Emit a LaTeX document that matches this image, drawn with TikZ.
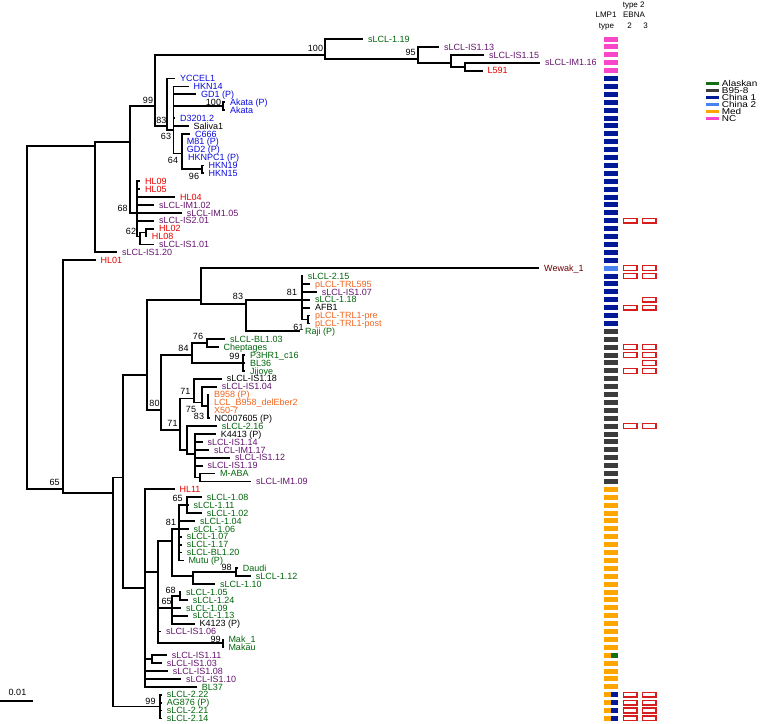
\documentclass[tikz,border=0pt]{standalone}
\usepackage{fontspec}
\setmainfont{Liberation Sans}
\newfontfamily\lgfont{Liberation Sans}[FakeStretch=1.17]
\definecolor{tg}{RGB}{0,100,10}
\definecolor{tp}{RGB}{100,20,110}
\definecolor{tr}{RGB}{230,0,0}
\definecolor{tb}{RGB}{10,10,220}
\definecolor{to}{RGB}{240,100,30}
\definecolor{tm}{RGB}{110,0,0}
\definecolor{ncc}{RGB}{250,70,200}
\definecolor{chinaone}{RGB}{0,25,150}
\definecolor{chinatwo}{RGB}{70,130,240}
\definecolor{bgray}{RGB}{60,60,60}
\definecolor{med}{RGB}{255,165,0}
\definecolor{alaskan}{RGB}{20,110,20}
\definecolor{boxred}{RGB}{215,30,30}
\newcommand\lmpbox[2]{\fill[#2] (604,{39+(#1-1)*7.9-2.5}) rectangle (617.5,{39+(#1-1)*7.9+2.5});}
\newcommand\lmpsplit[2]{\fill[med] (604,{39+(#1-1)*7.9-2.5}) rectangle (611,{39+(#1-1)*7.9+2.5});\fill[#2] (611,{39+(#1-1)*7.9-2.5}) rectangle (617.5,{39+(#1-1)*7.9+2.5});}
\newcommand\ebnabox[2]{\draw[redbox] (#2,{39+(#1-1)*7.9-2.4}) rectangle ({#2+13.7},{39+(#1-1)*7.9+2.4});}
\begin{document}
\begin{tikzpicture}[x=1pt,y=-1pt,
  br/.style={line width=1.8pt, line join=miter},
  lf/.style={anchor=west, inner xsep=4.7pt, inner ysep=0pt, xshift=-4.7pt, text height=6.4pt, text depth=0pt, font=\fontsize{9}{10}\selectfont},
  bs/.style={inner sep=0pt, text height=6.4pt, text depth=0pt, font=\fontsize{9}{10}\selectfont},
  hd/.style={inner sep=0pt, text height=5.7pt, text depth=0pt, font=\fontsize{8}{9}\selectfont},
  lg/.style={anchor=west, inner sep=0pt, text height=6pt, text depth=0pt, font=\lgfont\fontsize{8.5}{9}\selectfont},
  redbox/.style={draw=boxred, line width=1.3pt, fill=white}]
\useasboundingbox (0,0) rectangle (760,723);

% internal nodes
\coordinate (root) at (27,300);
\coordinate (n95) at (95,145.65);
\coordinate (n130) at (130,141.7);
\coordinate (n155) at (155,106.15);
\coordinate (n325) at (325,54.8);
\coordinate (n418) at (418,58.75);
\coordinate (n451) at (451,62.7);
\coordinate (n465) at (465,66.65);
\coordinate (nchina) at (167,125.9);
\coordinate (n173) at (173.5,129.85);
\coordinate (nakata) at (223.3,106.15);
\coordinate (n181) at (181.7,153.55);
\coordinate (n202) at (202.3,169.35);
\coordinate (n137) at (137.3,212.8);
\coordinate (n62) at (140,236.5);
\coordinate (nhl) at (146,232.55);
\coordinate (n65) at (63,489.3);
\coordinate (na) at (113,493.25);
\coordinate (nb) at (122.7,477.45);
\coordinate (nc) at (146.7,374.75);
\coordinate (nw) at (200.7,299.7);
\coordinate (nx) at (246,303.65);
\coordinate (ny) at (301.7,299.7);
\coordinate (ntrl) at (308.3,319.45);
\coordinate (ne) at (160.7,410.3);
\coordinate (nf) at (191.7,355);
\coordinate (nf76) at (206.7,343.15);
\coordinate (np3) at (243.3,362.9);
\coordinate (ng) at (180,430.05);
\coordinate (nh) at (194.3,398.45);
\coordinate (nj) at (201.7,402.4);
\coordinate (nk) at (208.3,406.35);
\coordinate (ni) at (186.7,449.75);
\coordinate (nl) at (195,453.7);
\coordinate (nm) at (200,477.45);
\coordinate (nd) at (145,588.05);
\coordinate (nn) at (158.3,572.25);
\coordinate (np) at (171.7,540.65);
\coordinate (n81) at (179.3,528.8);
\coordinate (n65b) at (186.7,505.1);
\coordinate (ndd) at (193.3,576.2);
\coordinate (ndaudi) at (235.7,572.25);
\coordinate (n65c) at (171.7,607.8);
\coordinate (n68) at (180,595.95);
\coordinate (nmak) at (223,643.35);
\coordinate (no) at (151.7,659.15);
\coordinate (nag) at (160,706.55);

% leaves
\node[lf,text=tg] (l1) at (368,39) {sLCL-1.19};
\node[lf,text=tp] (l2) at (444,46.9) {sLCL-IS1.13};
\node[lf,text=tp] (l3) at (489,54.8) {sLCL-IS1.15};
\node[lf,text=tp] (l4) at (545,62.7) {sLCL-IM1.16};
\node[lf,text=tr] (l5) at (487.5,70.6) {L591};
\node[lf,text=tb] (l6) at (180,78.5) {YCCEL1};
\node[lf,text=tb] (l7) at (193.3,86.4) {HKN14};
\node[lf,text=tb] (l8) at (201,94.3) {GD1 (P)};
\node[lf,text=tb] (l9) at (230,102.2) {Akata (P)};
\node[lf,text=tb] (l10) at (230,110.1) {Akata};
\node[lf,text=tb] (l11) at (180,118) {D3201.2};
\node[lf] (l12) at (193.3,125.9) {Saliva1};
\node[lf,text=tb] (l13) at (195,133.8) {C666};
\node[lf,text=tb] (l14) at (186.7,141.7) {M81 (P)};
\node[lf,text=tb] (l15) at (186.7,149.6) {GD2 (P)};
\node[lf,text=tb] (l16) at (188,157.5) {HKNPC1 (P)};
\node[lf,text=tb] (l17) at (208.3,165.4) {HKN19};
\node[lf,text=tb] (l18) at (208.3,173.3) {HKN15};
\node[lf,text=tr] (l19) at (145,181.2) {HL09};
\node[lf,text=tr] (l20) at (145,189.1) {HL05};
\node[lf,text=tr] (l21) at (180,197) {HL04};
\node[lf,text=tp] (l22) at (159,204.9) {sLCL-IM1.02};
\node[lf,text=tp] (l23) at (186.7,212.8) {sLCL-IM1.05};
\node[lf,text=tp] (l24) at (159,220.7) {sLCL-IS2.01};
\node[lf,text=tr] (l25) at (159,228.6) {HL02};
\node[lf,text=tr] (l26) at (151.7,236.5) {HL08};
\node[lf,text=tp] (l27) at (159,244.4) {sLCL-IS1.01};
\node[lf,text=tp] (l28) at (122,252.3) {sLCL-IS1.20};
\node[lf,text=tr] (l29) at (100.5,260.2) {HL01};
\node[lf,text=tm] (l30) at (544,268.1) {Wewak\_1};
\node[lf,text=tg] (l31) at (307.7,276) {sLCL-2.15};
\node[lf,text=to] (l32) at (315,283.9) {pLCL-TRL595};
\node[lf,text=tp] (l33) at (321.7,291.8) {sLCL-IS1.07};
\node[lf,text=tg] (l34) at (315,299.7) {sLCL-1.18};
\node[lf] (l35) at (315,307.6) {AFB1};
\node[lf,text=to] (l36) at (315,315.5) {pLCL-TRL1-pre};
\node[lf,text=to] (l37) at (315,323.4) {pLCL-TRL1-post};
\node[lf,text=tg] (l38) at (305,331.3) {Raji (P)};
\node[lf,text=tg] (l39) at (230,339.2) {sLCL-BL1.03};
\node[lf,text=tg] (l40) at (223.3,347.1) {Cheptages};
\node[lf,text=tg] (l41) at (250,355) {P3HR1\_c16};
\node[lf,text=tg] (l42) at (250,362.9) {BL36};
\node[lf,text=tg] (l43) at (250,370.8) {Jijoye};
\node[lf] (l44) at (226.7,378.7) {sLCL-IS1.18};
\node[lf,text=tp] (l45) at (221.7,386.6) {sLCL-IS1.04};
\node[lf,text=to] (l46) at (214,394.5) {B958 (P)};
\node[lf,text=to] (l47) at (214,402.4) {LCL\_B958\_delEber2};
\node[lf,text=to] (l48) at (214,410.3) {X50-7};
\node[lf] (l49) at (214.3,418.2) {NC007605 (P)};
\node[lf,text=tg] (l50) at (221.7,426.1) {sLCL-2.16};
\node[lf] (l51) at (220.7,434) {K4413 (P)};
\node[lf,text=tp] (l52) at (207.3,441.9) {sLCL-IS1.14};
\node[lf,text=tp] (l53) at (214,449.8) {sLCL-IM1.17};
\node[lf,text=tp] (l54) at (235,457.7) {sLCL-IS1.12};
\node[lf,text=tp] (l55) at (207.3,465.6) {sLCL-IS1.19};
\node[lf,text=tg] (l56) at (220,473.5) {M-ABA};
\node[lf,text=tp] (l57) at (256,481.4) {sLCL-IM1.09};
\node[lf,text=tr] (l58) at (179.3,489.3) {HL11};
\node[lf,text=tg] (l59) at (206.7,497.2) {sLCL-1.08};
\node[lf,text=tg] (l60) at (193.3,505.1) {sLCL-1.11};
\node[lf,text=tg] (l61) at (206.7,513) {sLCL-1.02};
\node[lf,text=tg] (l62) at (200,520.9) {sLCL-1.04};
\node[lf,text=tg] (l63) at (193.3,528.8) {sLCL-1.06};
\node[lf,text=tg] (l64) at (186.7,536.7) {sLCL-1.07};
\node[lf,text=tg] (l65) at (186.7,544.6) {sLCL-1.17};
\node[lf,text=tg] (l66) at (186.7,552.5) {sLCL-BL1.20};
\node[lf,text=tg] (l67) at (188.3,560.4) {Mutu (P)};
\node[lf,text=tg] (l68) at (242.7,568.3) {Daudi};
\node[lf,text=tg] (l69) at (255.7,576.2) {sLCL-1.12};
\node[lf,text=tg] (l70) at (220,584.1) {sLCL-1.10};
\node[lf,text=tg] (l71) at (186,592) {sLCL-1.05};
\node[lf,text=tg] (l72) at (192.7,599.9) {sLCL-1.24};
\node[lf,text=tg] (l73) at (186,607.8) {sLCL-1.09};
\node[lf,text=tg] (l74) at (192.7,615.7) {sLCL-1.13};
\node[lf] (l75) at (199.3,623.6) {K4123 (P)};
\node[lf,text=tp] (l76) at (166,631.5) {sLCL-IS1.06};
\node[lf,text=tg] (l77) at (228.3,639.4) {Mak\_1};
\node[lf,text=tg] (l78) at (228.3,647.3) {Makau};
\node[lf,text=tp] (l79) at (171.7,655.2) {sLCL-IS1.11};
\node[lf,text=tp] (l80) at (166.7,663.1) {sLCL-IS1.03};
\node[lf,text=tp] (l81) at (172.7,671) {sLCL-IS1.08};
\node[lf,text=tp] (l82) at (186,678.9) {sLCL-IS1.10};
\node[lf,text=tg] (l83) at (201.7,686.8) {BL37};
\node[lf,text=tg] (l84) at (166.7,694.7) {sLCL-2.22};
\node[lf,text=tg] (l85) at (166.7,702.6) {AG876 (P)};
\node[lf,text=tg] (l86) at (166.7,710.5) {sLCL-2.21};
\node[lf,text=tg] (l87) at (166.7,718.4) {sLCL-2.14};

% branches to internal nodes
\foreach \p/\c in {root/n95,root/n65,n95/n130,n130/n155,n130/n137,n155/n325,n155/nchina,
  n325/n418,n418/n451,n451/n465,nchina/n173,n173/nakata,n173/n181,n181/n202,n137/n62,n62/nhl,
  n65/na,na/nb,na/nag,nb/nc,nb/nd,nc/nw,nc/ne,nw/nx,nx/ny,ny/ntrl,ne/nf,ne/ng,nf/nf76,nf/np3,
  ng/nh,ng/ni,nh/nj,nj/nk,ni/nl,nl/nm,nd/nn,nd/no,nn/np,nn/n65c,nn/nmak,np/n81,np/ndd,
  n81/n65b,ndd/ndaudi,n65c/n68}
  {\draw[br] (\p) |- (\c);}
% branches to leaves
\foreach \p/\c in {n325/l1,n418/l2,n451/l3,n465/l4,n465/l5,nchina/l6,n173/l7,n173/l8,nakata/l9,nakata/l10,
  n173/l11,n173/l12,n181/l13,n181/l14,n181/l15,n181/l16,n202/l17,n202/l18,
  n137/l19,n137/l20,n137/l21,n137/l22,n137/l23,n137/l24,nhl/l25,nhl/l26,n62/l27,n95/l28,n65/l29,
  nw/l30,ny/l31,ny/l32,ny/l33,ny/l34,ny/l35,ntrl/l36,ntrl/l37,nx/l38,nf76/l39,nf76/l40,
  np3/l41,np3/l42,np3/l43,nh/l44,nj/l45,nk/l46,nk/l47,nk/l48,nk/l49,ni/l50,
  nl/l51,nl/l52,nl/l53,nl/l54,nl/l55,nm/l56,nm/l57,nd/l58,n65b/l59,n65b/l60,n65b/l61,
  n81/l62,n81/l63,n81/l64,n81/l65,n81/l66,n81/l67,ndaudi/l68,ndaudi/l69,ndd/l70,
  n68/l71,n68/l72,n65c/l73,n65c/l74,n65c/l75,nn/l76,nmak/l77,nmak/l78,no/l79,no/l80,
  nd/l81,nd/l82,nd/l83,nag/l84,nag/l85,nag/l86,nag/l87}
  {\draw[br] (\p) |- (\c.west);}

% bootstrap values
\node[bs] (b1) at (315.5,48.3) {100};
\node[bs] (b2) at (410.5,52.3) {95};
\node[bs] (b3) at (148,100) {99};
\node[bs] (b4) at (213.5,102) {100};
\node[bs] (b5) at (161.3,120.7) {83};
\node[bs] (b6) at (166,136.7) {63};
\node[bs] (b7) at (173,160) {64};
\node[bs] (b8) at (194,176.7) {96};
\node[bs] (b9) at (122.7,208.7) {68};
\node[bs] (b10) at (131,231) {62};
\node[bs] (b11) at (238,296.7) {83};
\node[bs] (b12) at (292,292.3) {81};
\node[bs] (b13) at (298.5,327.3) {61};
\node[bs] (b14) at (198,336.7) {76};
\node[bs] (b15) at (183.5,348.7) {84};
\node[bs] (b16) at (234.5,356.7) {99};
\node[bs] (b17) at (185.3,391.7) {71};
\node[bs] (b18) at (154.5,403.3) {80};
\node[bs] (b19) at (191,409.3) {75};
\node[bs] (b20) at (199,416.7) {83};
\node[bs] (b21) at (172.5,423.3) {71};
\node[bs] (b22) at (54.7,482.7) {65};
\node[bs] (b23) at (177.7,498.3) {65};
\node[bs] (b24) at (171,522.7) {81};
\node[bs] (b25) at (226.7,567.3) {98};
\node[bs] (b26) at (170.7,590) {68};
\node[bs] (b27) at (166.7,601.7) {65};
\node[bs] (b28) at (215.7,639.3) {99};
\node[bs] (b29) at (150.5,701) {99};

% scale bar
\draw[line width=2.6pt] (0,701) -- (33,701);
\node[bs] (scale) at (17.5,692.7) {0.01};

% headers
\node[hd] (h1) at (606,15) {LMP1};
\node[hd] (h2) at (606.5,26) {type};
\node[hd] (h3) at (633.7,4.5) {type 2};
\node[hd] (h4) at (634,15) {EBNA};
\node[hd] (h5) at (629.5,26) {2};
\node[hd] (h6) at (645.5,26) {3};

% LMP1 type column
\foreach \r in {1,...,5} {\lmpbox{\r}{ncc}}
\foreach \r in {6,...,29,31,32,33,34,35,36,37} {\lmpbox{\r}{chinaone}}
\lmpbox{30}{chinatwo}
\foreach \r in {38,...,57} {\lmpbox{\r}{bgray}}
\foreach \r in {58,...,78,80,81,82,83} {\lmpbox{\r}{med}}
\lmpsplit{79}{alaskan}
\foreach \r in {84,85,86,87} {\lmpsplit{\r}{chinaone}}

% EBNA type 2 boxes
\foreach \r in {24,30,31,35,40,41,43,50,84,85,86,87} {\ebnabox{\r}{623.3}}
\foreach \r in {24,30,31,34,35,40,41,42,43,50,84,85,86,87} {\ebnabox{\r}{642.3}}

% legend
\foreach \c/\t [count=\i from 0] in {alaskan/Alaskan,bgray/B95-8,chinaone/China 1,chinatwo/China 2,med/Med,ncc/NC}
 {\fill[\c] (706,{83.7+7*\i-1.7}) rectangle (719.3,{83.7+7*\i+1.7});
  \node[lg] (lg\i) at (721.7,{83.7+7*\i}) {\t};}
\end{tikzpicture}
\end{document}
